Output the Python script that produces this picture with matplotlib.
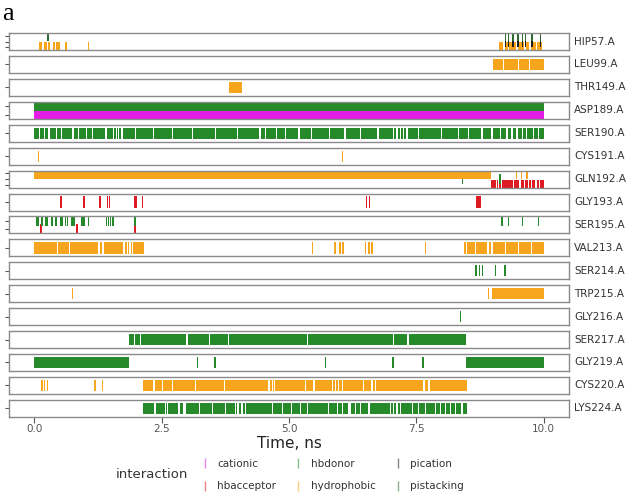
import matplotlib.pyplot as plt
from matplotlib.lines import Line2D

# residues, top to bottom
RESIDUES = ["HIP57.A", "LEU99.A", "THR149.A", "ASP189.A", "SER190.A", "CYS191.A",
            "GLN192.A", "GLY193.A", "SER195.A", "VAL213.A", "SER214.A", "TRP215.A",
            "GLY216.A", "SER217.A", "GLY219.A", "CYS220.A", "LYS224.A"]
TIME_TICKS = [0.0, 2.5, 5.0, 7.5, 10.0]
INTERACTIONS = ["cationic", "hbacceptor", "hbdonor", "hydrophobic", "pication", "pistacking"]
COLORS = {"cationic": "#e41de4", "hbacceptor": "#de1a22", "hbdonor": "#26892a",
          "hydrophobic": "#f7a51c", "pication": "#1e1e1e", "pistacking": "#2f6b2f"}

# a float is a single frame, a tuple is a (start, end) stretch, in ns
HIP57_HYDROPHOBIC = [0.11, 0.14, 0.2, 0.23, 0.29, 0.39, 0.44, 0.48, 0.62, 1.06,
                     (9.13, 9.2), (9.24, 9.3), (9.33, 9.45), (9.5, 9.62),
                     (9.66, 9.72), (9.76, 9.85), (9.88, 9.97)]
HIP57_PICATION = [9.25, 9.31, 9.4, 9.5, 9.59, 9.65, 9.77, 9.94]
HIP57_PISTACKING = [0.27, 9.25, 9.31, 9.4, 9.5, 9.59, 9.65, 9.77, 9.94]
LEU99_HYDROPHOBIC = [(9.0, 9.2), (9.22, 9.5), (9.52, 9.72), (9.74, 10.0)]
THR149_HYDROPHOBIC = [(3.82, 4.07)]
ASP189_CATIONIC = [(0.0, 10.0)]
ASP189_HBDONOR = [(0.0, 10.0)]
SER190_HBDONOR = [(0.0, 10.0)]
SER190_GAPS = [0.1, 0.2, 0.29, 0.43, 0.54, 0.76, 0.87, 1.02, 1.14, 1.41, 1.555, 1.61,
               1.65, 1.72, 1.99, 2.34, 2.71, 3.1, 3.56, 3.99, 4.43, 4.54, 4.76, 4.93,
               5.2, 5.45, 5.8, 6.1, 6.4, 6.75, 7.06, 7.12, 7.19, 7.25, 7.32, 7.55, 8.0,
               8.33, 8.53, 8.79, 8.99, 9.15, 9.28, 9.38, 9.48, 9.59, 9.67, 9.8, 9.9]
CYS191_HYDROPHOBIC = [0.08, 6.05]
GLN192_HBACCEPTOR = [(8.97, 10.0)]
GLN192_HBACCEPTOR_GAPS = [9.07, 9.12, 9.18, 9.41, 9.54, 9.63, 9.71, 9.77, 9.85, 9.92]
GLN192_HBDONOR = [8.41, 9.14]
GLN192_HYDROPHOBIC = [(0.0, 8.97), 9.47, 9.57, 9.67]
GLY193_HBACCEPTOR = [0.52, 0.98, 1.29, 1.44, 1.48, 1.98, 2.01, 2.12, 6.52, 6.58,
                     (8.67, 8.78)]
SER195_HBACCEPTOR = [0.13, (0.82, 0.86), 1.98]
SER195_HBDONOR = [0.05, 0.08, 0.15, 0.23, 0.26, 0.35, 0.43, 0.52, 0.55, 0.61, 0.65,
                  0.74, 0.78, 0.94, 0.98, 1.06, 1.42, 1.46, 1.5, 1.54, 1.98,
                  9.18, 9.31, 9.59, 9.9]
VAL213_HYDROPHOBIC = [(0.0, 2.16), 5.46, 5.9, 6.0, 6.06, 6.5, 6.57, 6.63, 7.68, 8.46,
                      (8.5, 10.0)]
VAL213_GAPS = [0.46, 0.69, 1.27, 1.35, 1.76, 1.83, 1.88, 1.93,
               8.66, 8.91, 8.99, 9.25, 9.51, 9.77]
SER214_HBDONOR = [8.67, 8.74, 8.8, 9.06, 9.24]
TRP215_HYDROPHOBIC = [0.75, 8.92, (8.99, 10.0)]
GLY216_HBDONOR = [8.37]
SER217_HBDONOR = [(1.85, 8.48)]
SER217_GAPS = [1.96, 2.09, 3.0, 3.44, 3.81, 5.36, 7.06, 7.34]
GLY219_HBDONOR = [(0.0, 1.85), 3.2, 3.55, 5.72, 7.04, 7.63, (8.48, 10.0)]
CYS220_HYDROPHOBIC = [0.15, 0.2, 0.26, 1.19, 1.34, (2.14, 8.5)]
CYS220_GAPS = [2.35, 2.52, 2.71, 3.17, 3.73, 4.61, 4.67, 4.71, 5.33, 5.49, 5.85, 5.92,
               5.98, 6.05, 6.47, 6.63, 6.7, 7.65, 7.75]
LYS224_HBDONOR = [(2.14, 8.5)]
LYS224_GAPS = [2.37, 2.58, 2.61, 2.84, 2.94, 2.97, 3.24, 3.5, 3.76, 3.95, 4.0, 4.08,
               4.14, 4.67, 4.87, 5.05, 5.23, 5.36, 5.78, 5.95, 6.05, 6.18, 6.21, 6.31,
               6.41, 6.57, 6.99, 7.06, 7.12, 7.19, 7.42, 7.55, 7.68, 7.88, 7.97, 8.07,
               8.17, 8.27, 8.4]

# sub-rows of each panel, bottom to top: (interaction, frames, gaps)
ROWS = {
    "HIP57.A": [("hydrophobic", HIP57_HYDROPHOBIC, []), ("pication", HIP57_PICATION, []),
                ("pistacking", HIP57_PISTACKING, [])],
    "LEU99.A": [("hydrophobic", LEU99_HYDROPHOBIC, [])],
    "THR149.A": [("hydrophobic", THR149_HYDROPHOBIC, [])],
    "ASP189.A": [("cationic", ASP189_CATIONIC, []), ("hbdonor", ASP189_HBDONOR, [])],
    "SER190.A": [("hbdonor", SER190_HBDONOR, SER190_GAPS)],
    "CYS191.A": [("hydrophobic", CYS191_HYDROPHOBIC, [])],
    "GLN192.A": [("hbacceptor", GLN192_HBACCEPTOR, GLN192_HBACCEPTOR_GAPS),
                 ("hbdonor", GLN192_HBDONOR, []), ("hydrophobic", GLN192_HYDROPHOBIC, [])],
    "GLY193.A": [("hbacceptor", GLY193_HBACCEPTOR, [])],
    "SER195.A": [("hbacceptor", SER195_HBACCEPTOR, []), ("hbdonor", SER195_HBDONOR, [])],
    "VAL213.A": [("hydrophobic", VAL213_HYDROPHOBIC, VAL213_GAPS)],
    "SER214.A": [("hbdonor", SER214_HBDONOR, [])],
    "TRP215.A": [("hydrophobic", TRP215_HYDROPHOBIC, [])],
    "GLY216.A": [("hbdonor", GLY216_HBDONOR, [])],
    "SER217.A": [("hbdonor", SER217_HBDONOR, SER217_GAPS)],
    "GLY219.A": [("hbdonor", GLY219_HBDONOR, [])],
    "CYS220.A": [("hydrophobic", CYS220_HYDROPHOBIC, CYS220_GAPS)],
    "LYS224.A": [("hbdonor", LYS224_HBDONOR, LYS224_GAPS)],
}

FRAME = 0.03   # width of one frame line, ns
GAP = 0.025    # width of a white gap, ns


def to_bars(frames, gaps):
    bars = []
    for f in frames:
        if isinstance(f, tuple):
            start, end = f
            cuts = sorted(g for g in gaps if start < g < end)
            for g in cuts:
                bars.append((start, g - GAP / 2 - start))
                start = g + GAP / 2
            bars.append((start, end - start))
        else:
            bars.append((f - FRAME / 2, FRAME))
    return bars


fig, axes = plt.subplots(len(RESIDUES), 1, sharex=True, figsize=(6.34, 5.01), dpi=100)
fig.subplots_adjust(left=0.014, right=0.8975, top=0.934, bottom=0.168, hspace=0.35)

for ax, res in zip(axes, RESIDUES):
    rows = ROWS[res]
    n = len(rows)
    h = 1.8 if n >= 3 else 1.2
    for i, (name, frames, gaps) in enumerate(rows):
        ax.broken_barh(to_bars(frames, gaps), (i - h / 2, h),
                       facecolors=COLORS[name], edgecolor='none')
    pad = 0.9 if n == 1 else 0.5
    ax.set_ylim(-pad, n - 1 + pad)
    ax.set_xlim(-0.5, 10.5)
    ax.set_yticks(range(n))
    ax.set_yticklabels([])
    ax.tick_params(axis='y', length=3, width=0.8, color='#555555')
    ax.tick_params(axis='x', length=0)
    for sp in ax.spines.values():
        sp.set_color('#8a8a8a')
        sp.set_linewidth(1.0)
    ax.text(1.009, 0.5, res, transform=ax.transAxes, va='center', ha='left',
            fontsize=7.5, color='#333333')

bottom = axes[-1]
bottom.set_xticks(TIME_TICKS)
bottom.set_xticklabels([f'{t:.1f}' for t in TIME_TICKS])
bottom.tick_params(axis='x', length=4, width=0.8, color='#555555',
                   labelsize=7.5, labelcolor='#555555', pad=1.5)
bottom.set_xlabel('Time, ns', fontsize=11, color='#222222', labelpad=1)

# legend: title sits to the left of the entries
handles = [Line2D([], [], marker='|', linestyle='None', markersize=7, markeredgewidth=1,
                  color=COLORS[k], alpha=0.55) for k in INTERACTIONS]
fig.legend(handles, INTERACTIONS, ncol=3, loc='center left', bbox_to_anchor=(0.315, 0.052),
           frameon=False, fontsize=7.5, handlelength=1.0, handletextpad=0.7,
           columnspacing=1.6, borderpad=0, borderaxespad=0, labelspacing=1.2,
           labelcolor='#333333')
fig.text(0.297, 0.052, 'interaction', ha='right', va='center', fontsize=9.5, color='#333333')

fig.text(0.003, 0.972, 'a', fontsize=19, family='Liberation Serif', va='center', ha='left')

fig.savefig('out.png', dpi=100)
